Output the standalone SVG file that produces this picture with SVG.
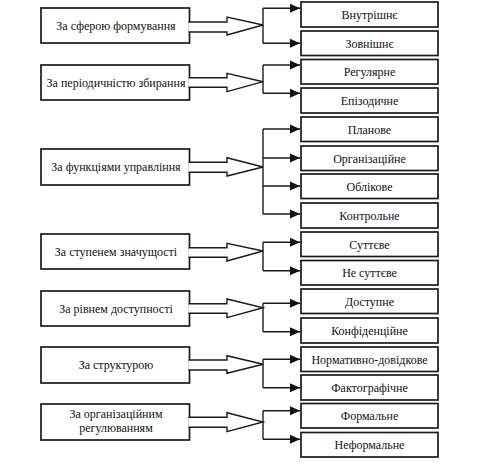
<svg xmlns="http://www.w3.org/2000/svg" width="485" height="465" viewBox="0 0 485 465">
<style>
.bx{fill:#fff;stroke:#1a1a1a;stroke-width:1.7}
text{font-family:'Liberation Serif','Times New Roman',serif;font-size:12px;fill:#111;text-anchor:middle}
.ba{fill:#fff;stroke:#1a1a1a;stroke-width:1.4}
.ln{fill:none;stroke:#1a1a1a;stroke-width:1.4}
</style>
<defs>
<marker id="ah" markerUnits="userSpaceOnUse" markerWidth="10" markerHeight="10" viewBox="0 0 10 10" refX="10" refY="5" orient="auto">
<path d="M0,0.5 L10,5 L0,9.5 Z" fill="#111"/>
</marker>
</defs>
<rect width="485" height="465" fill="#fff"/>
<g font-family="Liberation Serif, serif" font-size="12" text-anchor="middle">
<g id="g1">
<rect class="bx" x="41" y="8" width="148.5" height="35"/>
<text x="116" y="29.5">За сферою формування</text>
</g>
<g id="g2">
<rect class="bx" x="41" y="65" width="148.5" height="35"/>
<text x="116" y="86.5">За періодичністю збирання</text>
</g>
<g id="g3">
<rect class="bx" x="41" y="149" width="148.5" height="36"/>
<text x="116" y="171">За функціями управління</text>
</g>
<g id="g4">
<rect class="bx" x="41" y="234" width="148.5" height="35"/>
<text x="116" y="255.5">За ступенем значущості</text>
</g>
<g id="g5">
<rect class="bx" x="41" y="291" width="148.5" height="35"/>
<text x="116" y="312.5">За рівнем доступності</text>
</g>
<g id="g6">
<rect class="bx" x="41" y="347" width="148.5" height="36"/>
<text x="116" y="369">За структурою</text>
</g>
<g id="g7">
<rect class="bx" x="41" y="404" width="148.5" height="36"/>
<text x="116" y="418">За організаційним</text>
<text x="116" y="432">регулюванням</text>
</g>
<g id="r1"><rect class="bx" x="301" y="2" width="137" height="25"/><text x="369.5" y="18.5">Внутрішнє</text></g>
<g id="r2"><rect class="bx" x="301" y="31" width="137" height="24.5"/><text x="369.5" y="47.5">Зовнішнє</text></g>
<g id="r3"><rect class="bx" x="301" y="59.5" width="137" height="24.5"/><text x="369.5" y="76">Регулярне</text></g>
<g id="r4"><rect class="bx" x="301" y="88" width="137" height="25"/><text x="369.5" y="104.5">Епізодичне</text></g>
<g id="r5"><rect class="bx" x="301" y="117" width="137" height="24.5"/><text x="369.5" y="133.5">Планове</text></g>
<g id="r6"><rect class="bx" x="301" y="146" width="137" height="24.5"/><text x="369.5" y="162.5">Організаційне</text></g>
<g id="r7"><rect class="bx" x="301" y="174" width="137" height="24.5"/><text x="369.5" y="190.5">Облікове</text></g>
<g id="r8"><rect class="bx" x="301" y="203" width="137" height="25"/><text x="369.5" y="219.5">Контрольне</text></g>
<g id="r9"><rect class="bx" x="301" y="232" width="137" height="24.5"/><text x="369.5" y="248.5">Суттєве</text></g>
<g id="r10"><rect class="bx" x="301" y="260.5" width="137" height="24.5"/><text x="369.5" y="277">Не суттєве</text></g>
<g id="r11"><rect class="bx" x="301" y="289" width="137" height="24.5"/><text x="369.5" y="305.5">Доступне</text></g>
<g id="r12"><rect class="bx" x="301" y="318" width="137" height="25"/><text x="369.5" y="334.5">Конфіденційне</text></g>
<g id="r13"><rect class="bx" x="301" y="347" width="137" height="24.5"/><text x="369.5" y="363.5">Нормативно-довідкове</text></g>
<g id="r14"><rect class="bx" x="301" y="375" width="137" height="25"/><text x="369.5" y="391.5">Фактографічне</text></g>
<g id="r15"><rect class="bx" x="301" y="403.5" width="137" height="24.5"/><text x="369.5" y="420">Формальне</text></g>
<g id="r16"><rect class="bx" x="301" y="432.5" width="137" height="24.5"/><text x="369.5" y="449">Неформальне</text></g>
</g>
<g id="connectors">
<path class="ba" d="M188.5,22 H227 V17 L263,25 L227,35 V32 H188.5"/>
<path class="ba" d="M188.5,77.7 H227 V73.3 L263,81.7 L227,91.7 V87.3 H188.5"/>
<path class="ba" d="M188.5,162.3 H227 V157.7 L263,167 L227,176 V172.3 H188.5"/>
<path class="ba" d="M188.5,247.7 H227 V243.3 L263,251 L227,261 V257.3 H188.5"/>
<path class="ba" d="M188.5,303.7 H227 V299 L263,307.7 L227,317.7 V313.3 H188.5"/>
<path class="ba" d="M188.5,360 H227 V355.7 L263,364.3 L227,373.3 V370 H188.5"/>
<path class="ba" d="M188.5,417.3 H227 V412.7 L263,422 L227,431.7 V427.3 H188.5"/>
<path class="ln" d="M263,8.3 V43.3"/>
<path class="ln" d="M263,8.3 H300" marker-end="url(#ah)"/>
<path class="ln" d="M263,43.3 H300" marker-end="url(#ah)"/>
<path class="ln" d="M263,65 V93.3"/>
<path class="ln" d="M263,65 H300" marker-end="url(#ah)"/>
<path class="ln" d="M263,93.3 H300" marker-end="url(#ah)"/>
<path class="ln" d="M263,129 V214"/>
<path class="ln" d="M263,129 H300" marker-end="url(#ah)"/>
<path class="ln" d="M263,158 H300" marker-end="url(#ah)"/>
<path class="ln" d="M263,186 H300" marker-end="url(#ah)"/>
<path class="ln" d="M263,214 H300" marker-end="url(#ah)"/>
<path class="ln" d="M263,242.3 V270.7"/>
<path class="ln" d="M263,242.3 H300" marker-end="url(#ah)"/>
<path class="ln" d="M263,270.7 H300" marker-end="url(#ah)"/>
<path class="ln" d="M263,303.3 V331.7"/>
<path class="ln" d="M263,303.3 H300" marker-end="url(#ah)"/>
<path class="ln" d="M263,331.7 H300" marker-end="url(#ah)"/>
<path class="ln" d="M263,359.3 V387.7"/>
<path class="ln" d="M263,359.3 H300" marker-end="url(#ah)"/>
<path class="ln" d="M263,387.7 H300" marker-end="url(#ah)"/>
<path class="ln" d="M263,410.7 V439.3"/>
<path class="ln" d="M263,410.7 H300" marker-end="url(#ah)"/>
<path class="ln" d="M263,439.3 H300" marker-end="url(#ah)"/>
</g>
</svg>
